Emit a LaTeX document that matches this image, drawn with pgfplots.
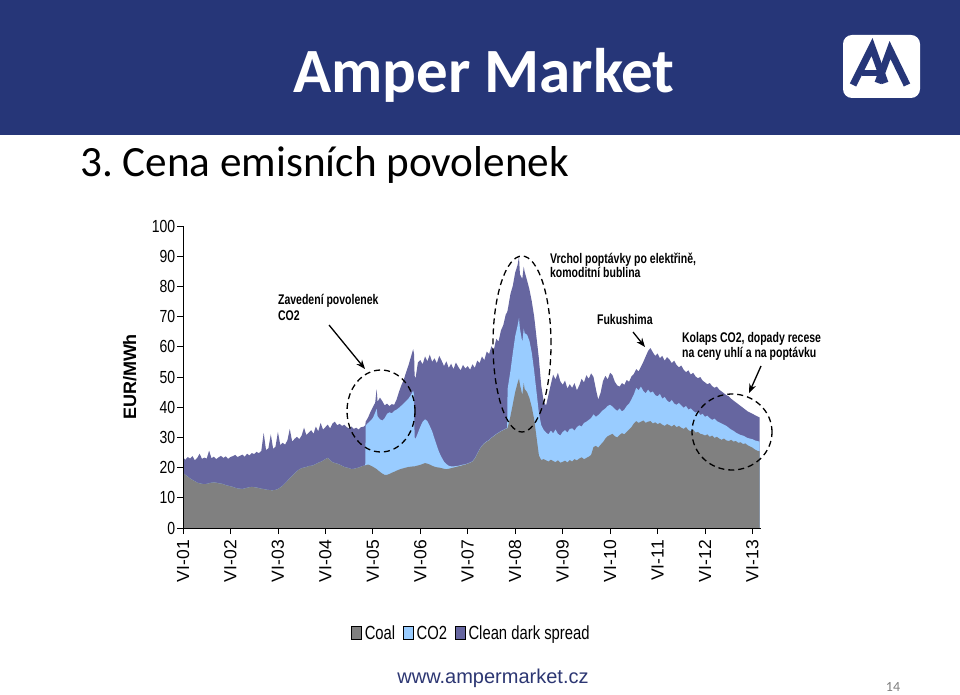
\documentclass[border=0pt]{standalone}
\usepackage{fontspec}
\setmainfont{Carlito}
\newfontfamily\arial{Liberation Sans}
\usepackage{pgfplots}
\usepackage{pgfplotstable}
\pgfplotsset{compat=1.18}
\usetikzlibrary{arrows.meta}
\frenchspacing

\definecolor{navy}{RGB}{38,54,120}
\definecolor{coal}{RGB}{128,128,128}
\definecolor{co2}{RGB}{153,204,255}
\definecolor{cds}{RGB}{102,102,160}
\definecolor{urlblue}{RGB}{45,55,115}

% x = year, C = coal, B = coal+CO2, T = coal+CO2+clean dark spread (EUR/MWh)
\pgfplotstableread{
x C B T
2001.50 18.2 18.2 23.4
2001.55 17.6 17.6 22.6
2001.60 17.0 17.0 23.5
2001.65 16.4 16.4 23.0
2001.70 15.9 15.9 23.8
2001.75 15.5 15.5 22.4
2001.80 15.0 15.0 23.2
2001.85 14.8 14.8 24.6
2001.90 14.6 14.6 22.9
2001.95 14.5 14.5 23.3
2002.00 14.6 14.6 23.0
2002.05 14.8 14.8 25.6
2002.10 15.0 15.0 23.1
2002.15 15.1 15.1 23.6
2002.20 15.0 15.0 22.8
2002.25 14.8 14.8 23.4
2002.30 14.7 14.7 23.9
2002.35 14.5 14.5 23.2
2002.40 14.2 14.2 23.7
2002.45 14.0 14.0 22.9
2002.50 13.8 13.8 23.5
2002.55 13.6 13.6 23.8
2002.60 13.3 13.3 24.2
2002.65 13.1 13.1 23.5
2002.70 13.0 13.0 23.9
2002.75 12.9 12.9 24.3
2002.80 13.1 13.1 23.6
2002.85 13.3 13.3 24.6
2002.90 13.5 13.5 24.0
2002.95 13.6 13.6 24.8
2003.00 13.5 13.5 24.5
2003.05 13.4 13.4 25.2
2003.10 13.2 13.2 24.8
2003.15 13.0 13.0 25.5
2003.20 12.9 12.9 31.5
2003.25 12.7 12.7 25.8
2003.30 12.6 12.6 26.4
2003.35 12.5 12.5 31.0
2003.40 12.5 12.5 26.2
2003.45 12.6 12.6 27.0
2003.50 12.9 12.9 31.8
2003.55 13.4 13.4 27.5
2003.60 14.0 14.0 28.2
2003.65 14.8 14.8 27.6
2003.70 15.6 15.6 29.0
2003.75 16.5 16.5 32.8
2003.80 17.2 17.2 28.6
2003.85 18.0 18.0 29.5
2003.90 18.8 18.8 30.2
2003.95 19.4 19.4 29.4
2004.00 19.8 19.8 30.6
2004.05 20.0 20.0 33.2
2004.10 20.2 20.2 30.8
2004.15 20.5 20.5 31.6
2004.20 20.6 20.6 32.4
2004.25 20.8 20.8 31.2
2004.30 21.2 21.2 33.6
2004.35 21.6 21.6 32.0
2004.40 21.9 21.9 34.8
2004.45 22.3 22.3 32.6
2004.50 22.8 22.8 33.4
2004.55 23.2 23.2 34.2
2004.60 22.4 22.4 33.0
2004.65 21.8 21.8 34.6
2004.70 21.5 21.5 35.2
2004.75 21.3 21.3 34.0
2004.80 21.0 21.0 34.5
2004.85 20.6 20.6 33.8
2004.90 20.2 20.2 34.2
2004.95 20.0 20.0 33.4
2005.00 19.8 19.8 33.0
2005.05 19.5 19.5 33.6
2005.10 19.6 19.6 32.8
2005.15 19.8 19.8 33.2
2005.20 20.0 20.0 32.6
2005.25 20.3 20.3 33.4
2005.30 20.6 20.6 33.5
2005.34 20.7 20.7 34.0
2005.35 20.8 34.0 35.2
2005.40 21.0 34.8 36.6
2005.45 20.7 35.5 38.4
2005.50 20.3 36.4 40.0
2005.55 19.8 38.2 41.5
2005.58 19.5 39.5 46.0
2005.60 19.2 37.0 41.8
2005.65 18.6 36.0 43.2
2005.70 18.0 35.6 42.0
2005.75 17.6 36.4 40.6
2005.80 17.6 37.8 41.2
2005.85 17.9 38.3 40.4
2005.90 18.3 38.0 41.0
2005.95 18.6 38.8 40.8
2006.00 19.0 39.2 42.5
2006.05 19.3 39.8 45.0
2006.10 19.6 40.5 47.2
2006.15 19.8 41.2 49.0
2006.20 20.0 42.0 51.5
2006.25 20.2 42.8 53.8
2006.30 20.3 44.0 56.5
2006.35 20.4 45.5 59.2
2006.37 20.4 44.0 57.5
2006.38 20.4 30.0 50.5
2006.40 20.5 29.5 49.5
2006.45 20.7 31.5 54.8
2006.50 20.9 33.5 55.6
2006.55 21.2 35.2 54.2
2006.60 21.5 36.0 56.8
2006.65 21.3 35.4 55.2
2006.70 21.0 33.8 57.4
2006.75 20.6 32.0 55.0
2006.80 20.3 29.6 56.2
2006.85 20.1 27.2 54.6
2006.90 20.0 25.0 57.0
2006.95 19.8 23.4 55.4
2007.00 19.6 22.0 53.6
2007.05 19.5 21.2 55.2
2007.10 19.6 20.6 53.0
2007.15 19.8 20.4 54.4
2007.20 20.0 20.4 52.6
2007.25 20.2 20.5 54.8
2007.30 20.4 20.6 53.4
2007.35 20.6 20.8 52.2
2007.40 20.8 21.0 54.0
2007.45 21.0 21.1 52.8
2007.50 21.3 21.4 53.6
2007.55 21.6 21.7 52.4
2007.60 22.0 22.1 54.2
2007.65 23.0 23.1 53.0
2007.70 24.5 24.6 55.4
2007.75 26.0 26.1 54.6
2007.80 27.2 27.3 56.8
2007.85 28.0 28.1 55.6
2007.90 28.6 28.7 58.4
2007.95 29.0 29.1 57.6
2008.00 29.8 29.9 60.2
2008.05 30.4 30.5 59.0
2008.10 31.0 31.1 62.6
2008.15 31.5 31.6 61.8
2008.20 32.0 32.1 65.4
2008.25 32.4 32.5 67.2
2008.30 32.8 32.9 70.6
2008.33 33.0 33.1 71.5
2008.34 33.1 46.0 72.0
2008.40 37.0 52.0 77.5
2008.45 41.0 58.0 80.2
2008.50 45.0 63.5 84.6
2008.55 48.0 67.0 87.0
2008.58 49.5 69.5 89.8
2008.60 47.5 66.0 84.0
2008.65 44.0 61.5 82.5
2008.68 48.0 66.0 86.5
2008.70 46.0 64.5 84.8
2008.75 45.0 64.0 82.0
2008.80 43.0 62.0 79.0
2008.85 40.0 58.0 75.0
2008.90 36.0 52.0 70.0
2008.95 30.0 45.0 63.0
2009.00 24.0 38.0 56.0
2009.05 22.5 34.0 47.0
2009.10 22.8 32.5 42.0
2009.15 22.4 31.6 40.5
2009.20 22.0 31.0 44.0
2009.25 22.6 32.2 47.5
2009.30 22.2 31.4 50.8
2009.35 21.8 32.6 49.2
2009.40 22.4 31.2 51.4
2009.45 21.6 30.6 48.6
2009.50 21.9 31.8 47.4
2009.55 22.3 32.4 48.8
2009.60 21.7 31.6 46.2
2009.65 22.5 32.8 47.6
2009.70 22.0 33.0 46.4
2009.75 22.8 32.2 48.0
2009.80 22.4 33.4 45.6
2009.85 23.0 34.0 47.2
2009.90 23.4 33.6 49.4
2009.95 22.8 34.8 48.2
2010.00 23.2 35.2 50.6
2010.05 23.6 35.8 49.4
2010.10 24.2 36.4 51.2
2010.15 26.8 37.6 50.0
2010.20 27.2 36.8 46.0
2010.25 26.6 37.4 42.5
2010.30 27.6 38.2 44.8
2010.35 28.4 39.0 48.6
2010.40 29.6 39.6 50.4
2010.45 30.4 40.4 49.2
2010.50 30.8 40.8 51.4
2010.55 31.2 40.2 50.6
2010.60 30.4 39.4 48.4
2010.65 30.0 38.8 47.2
2010.70 30.8 39.6 46.8
2010.75 31.4 38.6 48.0
2010.80 31.0 39.2 47.4
2010.85 31.8 40.4 49.0
2010.90 32.6 41.2 48.4
2010.95 33.4 42.6 50.2
2011.00 34.6 44.2 51.0
2011.05 35.4 46.4 52.6
2011.10 34.8 45.6 51.8
2011.15 35.2 46.8 53.4
2011.20 35.6 45.4 55.0
2011.25 34.8 44.6 56.8
2011.30 35.2 45.8 58.6
2011.35 35.4 44.8 59.6
2011.40 34.6 45.2 58.2
2011.45 35.0 44.0 57.0
2011.50 34.4 43.6 57.8
2011.55 34.8 44.4 56.2
2011.60 34.2 42.8 57.0
2011.65 33.8 43.4 55.4
2011.70 34.4 42.2 56.6
2011.75 34.0 41.6 55.8
2011.80 33.6 42.4 54.6
2011.85 34.2 41.2 55.4
2011.90 33.4 40.8 54.0
2011.95 33.8 41.4 53.2
2012.00 33.2 40.6 53.8
2012.05 32.8 39.8 52.4
2012.10 33.4 40.4 51.6
2012.15 32.4 39.2 52.2
2012.20 32.0 39.6 50.8
2012.25 32.6 38.8 51.4
2012.30 31.6 38.2 50.2
2012.35 31.8 38.6 49.6
2012.40 31.2 37.4 50.0
2012.45 31.0 37.8 48.8
2012.50 30.6 36.8 48.2
2012.55 31.0 37.2 47.6
2012.60 30.2 36.4 48.0
2012.65 30.6 35.8 47.0
2012.70 29.8 36.2 46.4
2012.75 30.2 35.4 46.8
2012.80 29.6 35.0 45.8
2012.85 29.2 34.6 45.2
2012.90 29.6 34.2 44.6
2012.95 29.0 33.8 44.0
2013.00 28.8 33.2 43.6
2013.05 29.2 32.6 42.8
2013.10 28.6 32.2 42.2
2013.15 28.8 31.6 41.6
2013.20 28.2 31.2 41.0
2013.25 28.4 30.8 40.4
2013.30 27.8 30.6 39.8
2013.35 28.0 30.2 39.2
2013.40 27.4 29.8 38.6
2013.45 27.0 29.6 38.2
2013.50 26.6 29.4 37.8
2013.55 26.0 29.0 37.4
2013.60 25.6 28.8 37.0
2013.65 25.4 28.6 36.6
}\data

\begin{document}
\begin{tikzpicture}[x=1pt,y=1pt]
\useasboundingbox (0,0) rectangle (960,694);
\fill[white] (0,0) rectangle (960,694);

% banner
\fill[navy] (0,559) rectangle (960,694);
\node[anchor=base, text=white, font=\bfseries\fontsize{63}{70}\selectfont, inner sep=0] at (484,601) {Amper Market};
\fill[white, rounded corners=9pt] (843,596) rectangle (920,659);
\draw[navy, line width=7pt, line join=miter] (853,609) -- (872,647) -- (885,611);
\draw[navy, line width=7pt, line join=miter] (878,611) -- (890,644) -- (907,609);
\draw[navy, line width=6pt] (862,621) -- (882,621);

\node[anchor=base west, font=\fontsize{43.2}{48}\selectfont, inner sep=0] at (80,517) {3. Cena emisních povolenek};

\begin{axis}[
  at={(183pt,166pt)}, anchor=south west,
  scale only axis, width=578pt, height=302pt,
  xmin=2001.5, xmax=2013.68, ymin=0, ymax=100,
  axis x line*=bottom, axis y line*=left,
  axis line style={black, line width=0.8pt, -},
  tick align=outside, major tick length=6pt,
  tick style={black, line width=0.8pt},
  xtick={2001.5,2002.5,...,2013.5},
  xticklabels={VI-01,VI-02,VI-03,VI-04,VI-05,VI-06,VI-07,VI-08,VI-09,VI-10,VI-11,VI-12,VI-13},
  ytick={0,10,...,100},
  /pgf/number format/assume math mode=true,
  ticklabel style={font=\arial\fontsize{17.5}{18}\selectfont},
  yticklabel style={xscale=0.8, inner sep=2pt},
  xticklabel style={rotate=90, anchor=east, inner xsep=6pt, inner ysep=2pt},
  ylabel={EUR/MWh},
  ylabel style={at={(axis description cs:-0.092,0.5)}, anchor=center, font=\arial\bfseries\fontsize{18}{18}\selectfont},
  axis on top,
  legend columns=3,
  legend style={at={(axis description cs:0.5,-0.348)}, anchor=center, draw=none, fill=none,
    font=\arial\fontsize{19}{19}\selectfont,
    /tikz/every even column/.append style={column sep=5pt},
    cells={anchor=west},
    nodes={inner xsep=3pt, inner ysep=1pt, text height=13pt, text depth=1pt}},
  legend image code/.code={\fill[#1] (0pt,-6pt) rectangle (10pt,7pt);},
]
\addplot[fill=cds, draw=none, forget plot] table[x=x, y=T] {\data} \closedcycle;
\addplot[fill=co2, draw=none, forget plot] table[x=x, y=B] {\data} \closedcycle;
\addplot[fill=coal, draw=none, forget plot] table[x=x, y=C] {\data} \closedcycle;
\addlegendimage{fill=coal}
\addlegendentry{\scalebox{0.78}[1]{Coal}}
\addlegendimage{fill=co2}
\addlegendentry{\scalebox{0.78}[1]{CO2}}
\addlegendimage{fill=cds}
\addlegendentry{\scalebox{0.78}[1]{Clean dark spread}}
\end{axis}

% annotations
\begin{scope}[line width=1.3pt, dash pattern=on 6pt off 4pt]
\draw (381,283) ellipse [x radius=34, y radius=41];
\draw (522,350) ellipse [x radius=29, y radius=88];
\draw (732,262) ellipse [x radius=40, y radius=38];
\end{scope}
\begin{scope}[line width=1.3pt, -{Stealth[length=9pt, width=7pt]}]
\draw (329,369) -- (365,325);
\draw (633,362) -- (645,347);
\draw (761,328) -- (749,301);
\end{scope}
\begin{scope}[every node/.style={anchor=base west, inner sep=0, xscale=0.75,
    font=\arial\bfseries\fontsize{14}{14}\selectfont}]
\node at (278,389) {Zavedení povolenek};
\node at (278,373) {CO2};
\node at (550,430) {Vrchol poptávky po elektřině,};
\node at (550,416) {komoditní bublina};
\node at (597,369) {Fukushima};
\node at (682,351) {Kolaps CO2, dopady recese};
\node at (682,337) {na ceny uhlí a na poptávku};
\end{scope}

\node[anchor=base, inner sep=0, text=urlblue, font=\arial\fontsize{20}{20}\selectfont] at (493,11) {www.ampermarket.cz};
\node[anchor=base, inner sep=0, text=gray, font=\fontsize{14}{14}\selectfont] at (893,3) {14};
\end{tikzpicture}
\end{document}
